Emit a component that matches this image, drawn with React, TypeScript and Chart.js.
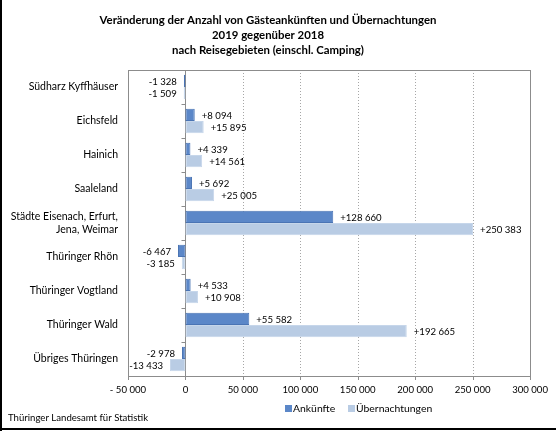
import React, { useEffect, useRef } from "react";
import Chart from "chart.js/auto";

const titleLines = [
  "Veränderung der Anzahl von Gästeankünften und Übernachtungen",
  "2019 gegenüber 2018",
  "nach Reisegebieten (einschl. Camping)",
];

const regions: (string | string[])[] = [
  "Südharz Kyffhäuser",
  "Eichsfeld",
  "Hainich",
  "Saaleland",
  ["Städte Eisenach, Erfurt,", "Jena, Weimar"],
  "Thüringer Rhön",
  "Thüringer Vogtland",
  "Thüringer Wald",
  "Übriges Thüringen",
];

const arrivals = [-1328, 8094, 4339, 5692, 128660, -6467, 4533, 55582, -2978];
const overnights = [-1509, 15895, 14561, 25005, 250383, -3185, 10908, 192665, -13433];

const seriesNames = ["Ankünfte", "Übernachtungen"];
const xTicks = [-50000, 0, 50000, 100000, 150000, 200000, 250000, 300000];
const sourceNote = "Thüringer Landesamt für Statistik";

const FONT = "Lato, 'Open Sans', sans-serif";
const darkBlue = "#5b87c8";
const darkBlueBorder = "#4a74b4";
const lightBlue = "#b9cce4";
const lightBlueBorder = "#c6d6ea";

const group = (n: number) => String(Math.abs(n)).replace(/\B(?=(\d{3})+(?!\d))/g, " ");
const signed = (n: number) => (n < 0 ? "-" : "+") + group(n);
const tickText = (n: number) => (n < 0 ? "- " + group(n) : group(n));

const App: React.FC = () => {
  const canvasRef = useRef<HTMLCanvasElement>(null);
  const chartRef = useRef<Chart<"bar"> | null>(null);

  useEffect(() => {
    document.body.style.margin = "0";
    const ctx = canvasRef.current?.getContext("2d");
    if (!ctx) return;
    if (chartRef.current) chartRef.current.destroy();

    // frame, dotted grid, zero axis and tick marks
    const framePlugin = {
      id: "frame",
      beforeDatasetsDraw(chart: any) {
        const { ctx: c, chartArea: a, scales } = chart;
        const x = scales.x;
        const y = scales.y;
        c.save();
        c.lineWidth = 1;
        c.strokeStyle = "#a6a6a6";
        c.setLineDash([1, 2]);
        xTicks.slice(1, -1).forEach((v) => {
          if (v === 0) return;
          const px = Math.round(x.getPixelForValue(v)) + 0.5;
          c.beginPath();
          c.moveTo(px, a.top);
          c.lineTo(px, a.bottom);
          c.stroke();
        });
        c.setLineDash([]);
        c.strokeStyle = "#8c8c8c";
        c.strokeRect(Math.round(a.left) + 0.5, Math.round(a.top) + 0.5, Math.round(a.right - a.left), Math.round(a.bottom - a.top));
        // x tick marks
        xTicks.forEach((v) => {
          const px = Math.round(x.getPixelForValue(v)) + 0.5;
          c.beginPath();
          c.moveTo(px, a.bottom);
          c.lineTo(px, a.bottom + 4);
          c.stroke();
        });
        // zero axis with category boundary ticks
        const x0 = Math.round(x.getPixelForValue(0)) + 0.5;
        c.beginPath();
        c.moveTo(x0, a.top);
        c.lineTo(x0, a.bottom);
        c.stroke();
        for (let i = 0; i <= regions.length; i++) {
          const py = Math.round(y.getPixelForValue(i - 0.5)) + 0.5;
          c.beginPath();
          c.moveTo(x0 - 4, py);
          c.lineTo(x0, py);
          c.stroke();
        }
        c.restore();
      },
      afterDraw(chart: any) {
        const { ctx: c, width, height } = chart;
        c.save();
        // outer frame (left and bottom edge)
        c.fillStyle = "#000";
        c.fillRect(0, 0, 2, height);
        c.fillRect(0, height - 3, width, 2);
        // title
        c.textAlign = "center";
        c.textBaseline = "middle";
        c.font = `bold 11.4px ${FONT}`;
        titleLines.forEach((t, i) => c.fillText(t, 268, 20 + i * 15));
        // value labels
        c.font = `9.6px ${FONT}`;
        chart.data.datasets.forEach((ds: any, di: number) => {
          const meta = chart.getDatasetMeta(di);
          meta.data.forEach((bar: any, i: number) => {
            const v = ds.data[i];
            c.textAlign = v < 0 ? "right" : "left";
            const px = v < 0 ? bar.x - 7 : bar.x + 7;
            c.fillText(signed(v), px, bar.y + 1);
          });
        });
        // legend
        const ly = 408.5;
        const items = [
          { x: 285, color: darkBlue },
          { x: 348, color: lightBlue },
        ];
        c.font = `10.4px ${FONT}`;
        c.textAlign = "left";
        items.forEach((it, i) => {
          c.fillStyle = it.color;
          c.fillRect(it.x, ly - 3.5, 7, 7);
          c.fillStyle = "#000";
          c.fillText(seriesNames[i], it.x + 8, ly);
        });
        // source
        c.font = `9.6px ${FONT}`;
        c.fillText(sourceNote, 8, 418);
        c.restore();
      },
    };

    chartRef.current = new Chart(ctx, {
      type: "bar",
      data: {
        labels: regions,
        datasets: [
          {
            label: seriesNames[0],
            data: arrivals,
            backgroundColor: darkBlue,
            borderColor: darkBlueBorder,
            borderWidth: 1,
            borderSkipped: false,
            categoryPercentage: 0.72,
            barPercentage: 1,
          },
          {
            label: seriesNames[1],
            data: overnights,
            backgroundColor: lightBlue,
            borderColor: lightBlueBorder,
            borderWidth: 1,
            borderSkipped: false,
            categoryPercentage: 0.72,
            barPercentage: 1,
          },
        ],
      },
      options: {
        indexAxis: "y",
        animation: false,
        responsive: false,
        layout: { padding: { left: 8, top: 70, right: 24, bottom: 33 } },
        scales: {
          x: {
            min: -50000,
            max: 300000,
            grid: { display: false, drawTicks: false },
            border: { display: false },
            afterBuildTicks: (s: any) => {
              s.ticks = xTicks.map((v) => ({ value: v }));
            },
            afterFit: (s: any) => {
              s.height = 22;
            },
            ticks: {
              padding: 8,
              color: "#000",
              maxRotation: 0,
              font: { family: FONT, size: 9.6 },
              callback: (v: any) => tickText(Number(v)),
            },
          },
          y: {
            grid: { display: false, drawTicks: false },
            border: { display: false },
            afterFit: (s: any) => {
              s.width = 120;
            },
            ticks: {
              padding: 10,
              color: "#000",
              font: { family: FONT, size: 10.5 },
            },
          },
        },
        plugins: {
          legend: { display: false },
          title: { display: false },
          tooltip: { enabled: false },
        },
      },
      plugins: [framePlugin],
    } as any);

    return () => {
      if (chartRef.current) {
        chartRef.current.destroy();
        chartRef.current = null;
      }
    };
  }, []);

  return (
    <div style={{ width: 556, height: 431, background: "#fff" }}>
      <canvas ref={canvasRef} width={556} height={431} style={{ display: "block" }} />
    </div>
  );
};

export default App;
